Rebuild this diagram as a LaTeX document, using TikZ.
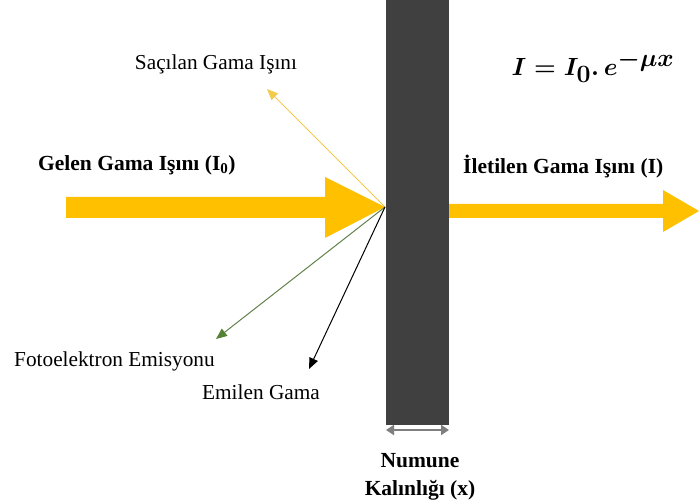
\documentclass[tikz,border=0pt]{standalone}
\usepackage[no-math]{fontspec}
\setmainfont{Liberation Serif}
\usetikzlibrary{arrows.meta}
\definecolor{gold}{HTML}{FFC000}
\definecolor{scat}{HTML}{F2CB4C}
\definecolor{slab}{HTML}{404040}
\definecolor{photo}{HTML}{548235}
\definecolor{dimgray}{HTML}{7F7F7F}
\tikzset{
  lbl/.style={inner sep=0pt, font=\fontsize{21.3}{24}\selectfont},
  blbl/.style={inner sep=0pt, font=\fontsize{21.5}{26}\selectfont\bfseries},
  mathlbl/.style={inner sep=0pt, font=\fontsize{34}{38}\selectfont\boldmath},
  ray/.style={line width=1pt}
}
\begin{document}
\begin{tikzpicture}[x=1pt,y=-1pt]
\useasboundingbox (0,0) rectangle (699,502);
% sample slab
\fill[slab] (386,0) rectangle (449,425);
% impact point
\coordinate (hit) at (385,207);
% incoming beam
\fill[gold] (66,197) -- (325,197) -- (325,177) -- (hit) -- (325,238) -- (325,218) -- (66,218) -- cycle;
% transmitted beam
\fill[gold] (449,204) -- (663,204) -- (663,190) -- (699,211) -- (663,232) -- (663,218) -- (449,218) -- cycle;
% end points of the secondary rays
\coordinate (scatEnd) at (267,89);
\coordinate (photoEnd) at (216,339);
\coordinate (emitEnd) at (309,369);
\draw[ray, draw=scat, -{Triangle[length=11pt,width=9pt]}] (hit) -- (scatEnd);
\draw[ray, draw=photo!70!gray, -{Triangle[length=11pt,width=9pt,fill=photo,color=photo]}] (hit) -- (photoEnd);
\draw[ray, draw=black, -{Triangle[length=11pt,width=9pt]}] (hit) -- (emitEnd);
% thickness dimension
\coordinate (dimL) at (386,430);
\coordinate (dimR) at (449,430);
\draw[dimgray, line width=2pt, {Triangle[length=8pt,width=10pt]}-{Triangle[length=8pt,width=10pt]}] (dimL) -- (dimR);
% labels
\node[lbl] (scatLbl) at (216,64) {Saçılan Gama Işını};
\node[lbl, anchor=west] (photoLbl) at (14,361) {Fotoelektron Emisyonu};
\node[lbl] (emitLbl) at (261,392) {Emilen Gama};
\node[blbl, anchor=west] (inLbl) at (38,165) {Gelen Gama Işını (I\textsubscript{0})};
\node[blbl, anchor=west] (outLbl) at (463,167) {İletilen Gama Işını (I)};
\node[blbl] (numLbl) at (420,461) {Numune};
\node[blbl] (kalLbl) at (420,490) {Kalınlığı (x)};
\node[mathlbl] (formula) at (593,67) {$I = I_{0}.\,e^{-\mu x}$};
\end{tikzpicture}
\end{document}
